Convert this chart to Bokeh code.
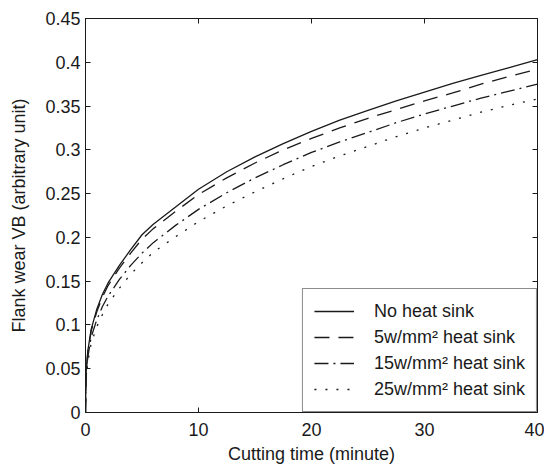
from bokeh.plotting import figure
from bokeh.models import (LinearAxis, FixedTicker, NumeralTickFormatter, Range1d,
                          Legend, LegendItem)
from bokeh.embed import file_html
from bokeh.resources import INLINE

# ---- data ----
time_min = [0, 0.05, 0.2, 0.5, 1, 1.5, 2, 3, 4, 5, 6, 8, 10, 12.5, 15, 17.5,
            20, 22.5, 25, 27.5, 30, 32.5, 35, 37.5, 40]
wear_no_sink = [0, 0.045, 0.070, 0.095, 0.118, 0.135, 0.148, 0.168, 0.186, 0.203,
                0.215, 0.235, 0.255, 0.275, 0.292, 0.307, 0.321, 0.334, 0.345,
                0.356, 0.366, 0.376, 0.385, 0.394, 0.403]
wear_5w = [0, 0.044, 0.068, 0.093, 0.115, 0.132, 0.145, 0.165, 0.182, 0.198,
           0.210, 0.230, 0.249, 0.268, 0.285, 0.300, 0.313, 0.325, 0.336,
           0.346, 0.356, 0.365, 0.375, 0.384, 0.392]
wear_15w = [0, 0.040, 0.063, 0.086, 0.106, 0.121, 0.133, 0.152, 0.168, 0.182,
            0.194, 0.214, 0.232, 0.251, 0.268, 0.283, 0.297, 0.309, 0.320,
            0.331, 0.341, 0.350, 0.359, 0.367, 0.375]
wear_25w = [0, 0.036, 0.057, 0.079, 0.098, 0.112, 0.124, 0.142, 0.158, 0.171,
            0.183, 0.201, 0.218, 0.236, 0.252, 0.267, 0.281, 0.293, 0.304,
            0.315, 0.325, 0.334, 0.343, 0.351, 0.358]
series_labels = ["No heat sink", "5w/mm\u00b2 heat sink",
                 "15w/mm\u00b2 heat sink", "25w/mm\u00b2 heat sink"]
x_ticks = [0, 10, 20, 30, 40]
y_ticks = [0, 0.05, 0.1, 0.15, 0.2, 0.25, 0.3, 0.35, 0.4, 0.45]

FONT = "Liberation Sans"
FS = "18px"
INK = "#1a1a1a"

p = figure(width=544, height=468, output_backend="svg", toolbar_location=None,
           x_range=Range1d(0, 40), y_range=Range1d(0, 0.45),
           min_border_left=85, min_border_right=7, min_border_top=18,
           min_border_bottom=56)
p.background_fill_color = "white"
p.border_fill_color = "white"
p.outline_line_color = INK
p.outline_line_width = 1
p.grid.visible = False

def style_axis(ax):
    ax.axis_line_color = INK
    ax.major_tick_line_color = INK
    ax.major_tick_in = 5
    ax.major_tick_out = 0
    ax.minor_tick_line_color = None
    ax.major_label_text_font = FONT
    ax.major_label_text_font_size = FS
    ax.major_label_text_color = INK
    ax.axis_label_text_font = FONT
    ax.axis_label_text_font_size = FS
    ax.axis_label_text_font_style = "normal"
    ax.axis_label_text_color = INK

xa = p.xaxis[0]
ya = p.yaxis[0]
xa.ticker = FixedTicker(ticks=x_ticks)
ya.ticker = FixedTicker(ticks=y_ticks)
ya.formatter = NumeralTickFormatter(format="0.[00]")
style_axis(xa)
style_axis(ya)
xa.axis_label = "Cutting time (minute)"
ya.axis_label = "Flank wear VB (arbitrary unit)"
xa.major_label_standoff = 10
xa.axis_label_standoff = 5
ya.major_label_standoff = 5
ya.axis_label_standoff = 13

# tick marks only (no labels) on the top and right edges
top = LinearAxis(ticker=FixedTicker(ticks=[], minor_ticks=x_ticks))
right = LinearAxis(ticker=FixedTicker(ticks=[], minor_ticks=y_ticks))
for ax in (top, right):
    ax.axis_line_color = INK
    ax.major_tick_line_color = None
    ax.minor_tick_line_color = INK
    ax.minor_tick_in = 5
    ax.minor_tick_out = 0
    ax.major_label_standoff = 0
p.add_layout(top, "above")
p.add_layout(right, "right")

dashes = ["solid", "15 9", "14 5 2 5", "2 9"]
ys = [wear_no_sink, wear_5w, wear_15w, wear_25w]
items = []
for yv, dash, lab in zip(ys, dashes, series_labels):
    r = p.line(time_min, yv, line_color=INK, line_width=1.3, line_dash=dash)
    items.append(LegendItem(label=lab, renderers=[r]))

legend = Legend(items=items, location="bottom_right")
legend.border_line_color = INK
legend.border_line_width = 1
legend.background_fill_alpha = 1
legend.margin = 0
legend.padding = 11
legend.spacing = 4
legend.glyph_width = 40
legend.glyph_height = 22
legend.label_height = 22
legend.label_standoff = 20
legend.label_text_font = FONT
legend.label_text_font_size = FS
legend.label_text_color = INK
p.add_layout(legend, "center")

open("out.html", "w").write(file_html(p, INLINE))
